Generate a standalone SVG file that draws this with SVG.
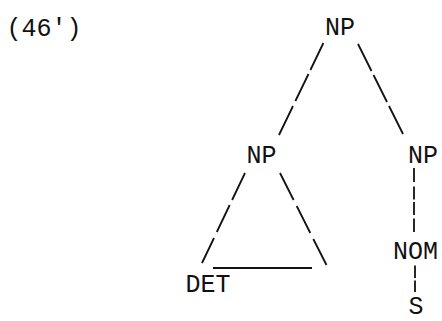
<svg xmlns="http://www.w3.org/2000/svg" width="442" height="321" viewBox="0 0 442 321">
  <style>
    .lbl { font-family: "Courier New", "Liberation Mono", monospace; font-size: 25px; fill: #111; text-anchor: middle; }
    .edge { stroke: #111; stroke-width: 1.8; fill: none; stroke-linecap: butt; }
    .bar { stroke: #111; stroke-width: 2.2; fill: none; }
  </style>
  <rect width="442" height="321" fill="#fff"/>

  <!-- example number -->
  <text class="lbl" x="44" y="36">(46')</text>

  <!-- connectors: typed slashes and bars -->
  <g id="connectors">
    <!-- NP (top) to NP (left) -->
    <path class="edge" d="M323.4,43 L310.4,70 M308.5,74 L295.4,101 M293,106 L279,135"/>
    <!-- NP (top) to NP (right) -->
    <path class="edge" d="M358,44 L371.5,71 M373.5,75 L387,102 M389,106 L403,134"/>
    <!-- triangle under left NP -->
    <path class="edge" d="M245,173 L232.1,200 M229.7,205 L216.8,232 M214,238 L202,263"/>
    <path class="edge" d="M280,173 L293.6,200 M296.7,206 L310.3,233 M313.3,239 L326.5,265"/>
    <line class="bar" x1="213" y1="268" x2="312" y2="268"/>
    <!-- NP (right) to NOM -->
    <path class="edge" d="M414,168 V182 M414,186.5 V199.5 M414,202 V215 M414,218.5 V232"/>
    <!-- NOM to S -->
    <path class="edge" d="M415,265.5 V278 M415,280.5 V292"/>
  </g>

  <g id="np-top"><text class="lbl" x="340" y="35">NP</text></g>
  <g id="np-left"><text class="lbl" x="261.5" y="163">NP</text></g>
  <g id="np-right"><text class="lbl" x="423" y="163">NP</text></g>
  <g id="det"><text class="lbl" x="208" y="292">DET</text></g>
  <g id="nom"><text class="lbl" x="415.5" y="259">NOM</text></g>
  <g id="s"><text class="lbl" x="416" y="314">S</text></g>
</svg>
